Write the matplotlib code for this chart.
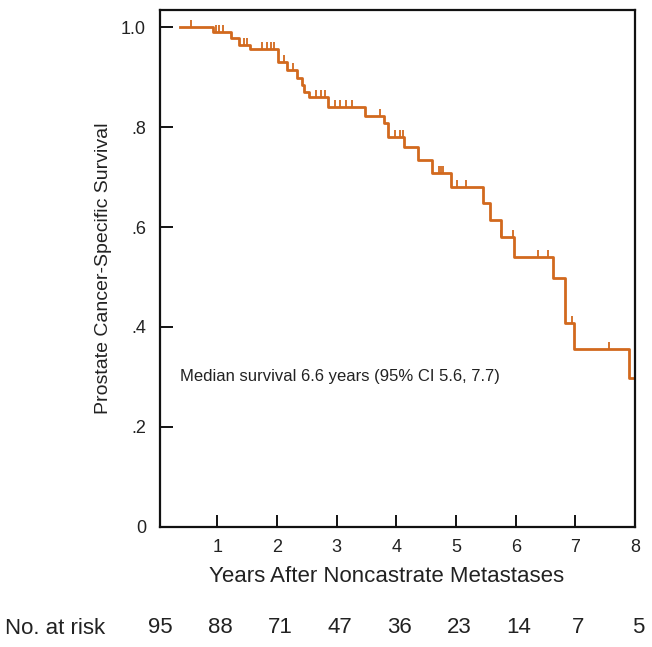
import matplotlib
matplotlib.use("Agg")
import matplotlib.pyplot as plt
from matplotlib.transforms import blended_transform_factory

plt.rcParams['font.family'] = ['Liberation Sans', 'DejaVu Sans']

# Kaplan-Meier steps: time (years) and survival after each step
start_time = 0.38
end_time = 8.0
step_times = [0.92, 1.23, 1.37, 1.55, 2.02, 2.17, 2.34, 2.42, 2.46, 2.54, 2.86,
              3.48, 3.80, 3.86, 4.13, 4.37, 4.60, 4.92, 5.46, 5.57, 5.75, 5.97,
              6.63, 6.83, 6.98, 7.90]
step_surv = [0.99, 0.978, 0.964, 0.956, 0.93, 0.914, 0.898, 0.884, 0.87, 0.86, 0.84,
             0.822, 0.808, 0.78, 0.76, 0.735, 0.708, 0.68, 0.648, 0.614, 0.58, 0.54,
             0.498, 0.408, 0.356, 0.298]

# censored observations
censor_times = [0.56, 0.98, 1.03, 1.10, 1.45, 1.50, 1.75, 1.84, 1.90, 1.95, 2.12,
                2.27, 2.66, 2.74, 2.81, 2.98, 3.06, 3.16, 3.26, 3.73, 3.98, 4.06,
                4.12, 4.72, 4.75, 4.79, 5.02, 5.16, 5.75, 5.96, 6.37, 6.54, 6.94, 7.57]

risk_times = [0, 1, 2, 3, 4, 5, 6, 7, 8]
risk_counts = [95, 88, 71, 47, 36, 23, 14, 7, 5]

y_ticks = [0, 0.2, 0.4, 0.6, 0.8, 1.0]
y_tick_labels = ['0', '.2', '.4', '.6', '.8', '1.0']
x_ticks = [1, 2, 3, 4, 5, 6, 7, 8]

color = '#D2691E'
text_color = '#222222'


def surv_at(t):
    s = 1.0
    for st, sv in zip(step_times, step_surv):
        if st <= t:
            s = sv
    return s


fig = plt.figure(figsize=(6.52, 6.47), dpi=100)
ax = fig.add_axes([0.2454, 0.1855, 0.7286, 0.799])

xs = [start_time] + step_times + [end_time]
ys = [1.0] + step_surv + [step_surv[-1]]
ax.step(xs, ys, where='post', color=color, lw=2.0)

cy = [surv_at(t) for t in censor_times]
ax.plot(censor_times, cy, linestyle='none', marker=2, markersize=5,
        markeredgewidth=1.3, color=color)

ax.text(0.38, 0.30, 'Median survival 6.6 years (95% CI 5.6, 7.7)',
        fontsize=12, color=text_color, va='center', ha='left')

ax.set_xlim(0.04, 8.0)
ax.set_ylim(0, 1.034)
ax.set_yticks(y_ticks)
ax.set_yticklabels(y_tick_labels)
ax.set_xticks(x_ticks)
ax.tick_params(direction='in', length=9, width=1.3, labelsize=13,
               labelcolor=text_color, pad=9)
ax.tick_params(axis='y', pad=10)
for sp in ax.spines.values():
    sp.set_linewidth(1.6)
    sp.set_color('#111111')

ax.set_xlabel('Years After Noncastrate Metastases', fontsize=16,
              color=text_color)
ax.xaxis.set_label_coords(0.476, -0.076)
ax.set_ylabel('Prostate Cancer-Specific Survival', fontsize=14,
              color=text_color)
ax.yaxis.set_label_coords(-0.102, 0.5)

# number at risk row
trans = blended_transform_factory(ax.transData, ax.transAxes)
fig.text(0.008, 0.029, 'No. at risk', fontsize=16, color=text_color,
         va='center', ha='left')
for t, n in zip(risk_times, risk_counts):
    ax.text(t + 0.05, -0.195, str(n), transform=trans, fontsize=16,
            color=text_color, ha='center', va='center')

fig.savefig('out.png', dpi=100)
